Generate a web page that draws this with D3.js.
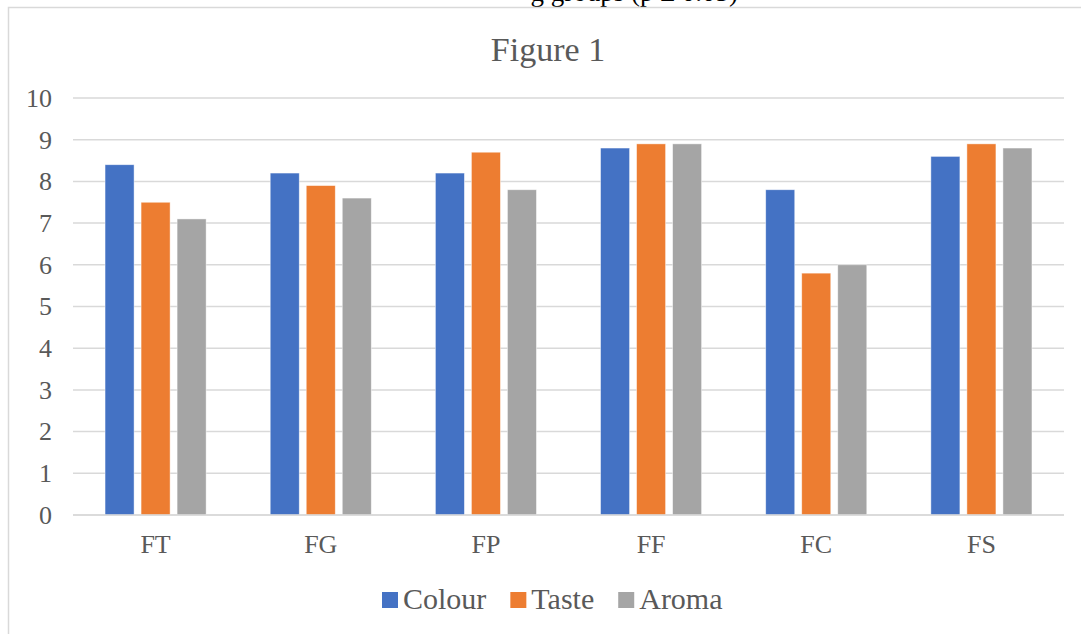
<!DOCTYPE html>
<html>
<head>
<meta charset="utf-8">
<script src="https://cdn.jsdelivr.net/npm/d3@7"></script>
<style>
  html, body { margin: 0; padding: 0; background: #fff; }
  svg { display: block; }
  text { font-family: "Liberation Serif", "Times New Roman", serif; }
</style>
</head>
<body>
<svg id="chart" width="1081" height="634"></svg>
<script>
const categories = ["FT", "FG", "FP", "FF", "FC", "FS"];
const seriesNames = ["Colour", "Taste", "Aroma"];
const colourValues = [8.4, 8.2, 8.2, 8.8, 7.8, 8.6];
const tasteValues  = [7.5, 7.9, 8.7, 8.9, 5.8, 8.9];
const aromaValues  = [7.1, 7.6, 7.8, 8.9, 6.0, 8.8];
const seriesColors = ["#4472C4", "#ED7D31", "#A5A5A5"];
const yTicks = [0, 1, 2, 3, 4, 5, 6, 7, 8, 9, 10];
const titleText = "Figure 1";
const captionText = "g groups (p \u2264 0.05)";

const seriesValues = [colourValues, tasteValues, aromaValues];

const svg = d3.select("#chart");
const W = 1081, H = 634;
const plot = { left: 73, right: 1064, top: 98, bottom: 515 };

// clipped caption above chart frame (cut off in the reference too)
svg.append("text")
  .attr("x", 738).attr("y", 1)
  .attr("text-anchor", "end")
  .attr("font-size", 27)
  .attr("fill", "#000")
  .text(captionText);

// chart frame
svg.append("path")
  .attr("d", `M8.5,${H} L8.5,7.5 L${W},7.5`)
  .attr("fill", "none")
  .attr("stroke", "#d9d9d9")
  .attr("stroke-width", 1.5);

// title
svg.append("text")
  .attr("x", 548).attr("y", 61)
  .attr("text-anchor", "middle")
  .attr("font-size", 34)
  .attr("fill", "#595959")
  .text(titleText);

const y = d3.scaleLinear().domain([0, 10]).range([plot.bottom, plot.top]);
const x0 = d3.scaleBand().domain(categories).range([plot.left, plot.right]).padding(0);
const bw = x0.bandwidth();
const x1 = d3.scaleBand().domain(seriesNames)
  .range([bw * 0.194, bw * 0.806]).paddingInner(0.194).paddingOuter(0);

// gridlines
svg.append("g").selectAll("line").data(yTicks).join("line")
  .attr("x1", plot.left).attr("x2", plot.right)
  .attr("y1", d => y(d)).attr("y2", d => y(d))
  .attr("stroke", "#d9d9d9")
  .attr("stroke-width", 1.5);

// y axis labels
const yAxis = d3.axisLeft(y).tickValues(yTicks).tickSize(0).tickPadding(21).tickFormat(d3.format("d"));
const gy = svg.append("g").attr("transform", `translate(${plot.left},0)`).call(yAxis);
gy.select(".domain").remove();
gy.selectAll("text")
  .attr("font-size", 26)
  .attr("font-family", "Liberation Serif, Times New Roman, serif")
  .attr("fill", "#595959");

// bars
const groups = svg.append("g").selectAll("g").data(categories).join("g")
  .attr("transform", d => `translate(${x0(d)},0)`);
groups.selectAll("rect")
  .data((c, i) => seriesNames.map((s, j) => ({ s, j, v: seriesValues[j][i] })))
  .join("rect")
  .attr("x", d => x1(d.s))
  .attr("width", x1.bandwidth())
  .attr("y", d => y(d.v))
  .attr("height", d => y(0) - y(d.v))
  .attr("fill", d => seriesColors[d.j])
  .attr("stroke", "#ffffff")
  .attr("stroke-opacity", 0.6)
  .attr("stroke-width", 0.75);

// x axis labels
const xAxis = d3.axisBottom(x0).tickSize(0).tickPadding(20);
const gx = svg.append("g").attr("transform", `translate(0,${plot.bottom})`).call(xAxis);
gx.select(".domain").remove();
gx.selectAll("text")
  .attr("font-size", 26)
  .attr("font-family", "Liberation Serif, Times New Roman, serif")
  .attr("fill", "#595959");

// zero line on top
svg.append("line")
  .attr("x1", plot.left).attr("x2", plot.right)
  .attr("y1", y(0)).attr("y2", y(0))
  .attr("stroke", "#d9d9d9").attr("stroke-width", 1.5);

// legend
const legend = svg.append("g");
let lx = 382;
const ly = 592;
seriesNames.forEach((name, i) => {
  legend.append("rect")
    .attr("x", lx).attr("y", ly).attr("width", 16).attr("height", 16)
    .attr("fill", seriesColors[i]);
  const t = legend.append("text")
    .attr("x", lx + 21).attr("y", ly + 17)
    .attr("font-size", 30)
    .attr("fill", "#595959")
    .text(name);
  lx += 21 + t.node().getComputedTextLength() + 24;
});
</script>
</body>
</html>
